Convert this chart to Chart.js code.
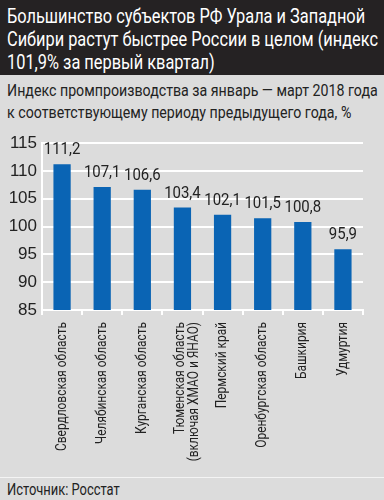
<!DOCTYPE html>
<html>
<head>
<meta charset="utf-8">
<script src="https://cdn.jsdelivr.net/npm/chart.js@4"></script>
<style>
  body { margin: 0; width: 384px; height: 500px; background: #dcdcdc; overflow: hidden;
         font-family: "Roboto", sans-serif; position: relative; }
  #head { background: #252223; height: 75px; position: relative; }
  .fit { position: absolute; left: 7px; white-space: nowrap; transform-origin: 0 0; }
  #title { top: 5px; color: #fff; font-size: 21px; line-height: 23px; }
  #sub { top: 80px; font-size: 16.5px; line-height: 21.5px; color: #222; }
  #box { position: absolute; top: 125px; left: 0; width: 384px; height: 350px; }
  #line { position: absolute; top: 477px; left: 0; width: 384px; height: 1px; background: #f4f4f4; }
  #src { top: 480px; font-size: 16px; color: #222; }
</style>
</head>
<body>
<div id="head"></div>
<div id="title" class="fit">Большинство субъектов РФ Урала и Западной<br>Сибири растут быстрее России в целом (индекс<br>101,9% за первый квартал)</div>
<div id="sub" class="fit">Индекс промпроизводства за январь — март 2018 года<br>к соответствующему периоду предыдущего года, %</div>
<div id="box"><canvas id="myChart" width="384" height="350"></canvas></div>
<div id="line"></div>
<div id="src" class="fit">Источник: Росстат</div>
<script>
const regions = [
  "Свердловская область",
  "Челябинская область",
  "Курганская область",
  ["Тюменская область", "(включая ХМАО и ЯНАО)"],
  "Пермский край",
  "Оренбургская область",
  "Башкирия",
  "Удмуртия"
];
const values = [111.2, 107.1, 106.6, 103.4, 102.1, 101.5, 100.8, 95.9];
const yTicks = [85, 90, 95, 100, 105, 110, 115];

// сжимаем текст по ширине, шрифт в оригинале узкий
function squeeze(id, width) {
  let el = document.getElementById(id);
  el.style.transform = 'scaleX(' + (width / el.scrollWidth) + ')';
}
squeeze('title', 371);
squeeze('sub', 371);
squeeze('src', 113);

// подписи значений над столбиками
const valueLabels = {
  id: 'valueLabels',
  afterDatasetsDraw(chart) {
    const ctx = chart.ctx;
    const meta = chart.getDatasetMeta(0);
    ctx.save();
    ctx.font = '17px Roboto';
    ctx.fillStyle = '#222';
    ctx.textAlign = 'center';
    ctx.textBaseline = 'alphabetic';
    meta.data.forEach((bar, i) => {
      ctx.save();
      ctx.translate(bar.x, bar.y - 10);
      ctx.scale(0.88, 1);
      ctx.fillText(values[i].toFixed(1).replace('.', ','), 0, 0);
      ctx.restore();
    });
    ctx.restore();
  }
};

// вертикальные подписи регионов, тоже сжатые
const regionLabels = {
  id: 'regionLabels',
  afterDraw(chart) {
    const ctx = chart.ctx;
    const xs = chart.scales.x;
    ctx.save();
    ctx.font = '14.5px Roboto';
    ctx.fillStyle = '#222';
    ctx.textAlign = 'right';
    ctx.textBaseline = 'middle';
    const k = 129 / ctx.measureText(regions[0]).width;
    regions.forEach((lab, i) => {
      const lines = Array.isArray(lab) ? lab : [lab];
      const x = xs.getPixelForTick(i);
      lines.forEach((txt, j) => {
        ctx.save();
        ctx.translate(x - (lines.length - 1) * 2 + j * 14, xs.top + 12);
        ctx.rotate(-Math.PI / 2);
        ctx.scale(k, 1);
        ctx.fillText(txt, 0, 0);
        ctx.restore();
      });
    });
    ctx.restore();
  }
};

const myChart = new Chart(document.getElementById('myChart'), {
  type: 'bar',
  data: {
    labels: regions,
    datasets: [{
      data: values,
      backgroundColor: '#0a64b4',
      barPercentage: 0.43,
      categoryPercentage: 1
    }]
  },
  options: {
    responsive: false,
    animation: false,
    layout: { padding: { top: 18, right: 21, bottom: 0, left: 0 } },
    plugins: { legend: { display: false }, tooltip: { enabled: false } },
    scales: {
      y: {
        min: 85, max: 115,
        afterFit(axis) { axis.width = 42; },
        afterBuildTicks(axis) { axis.ticks = yTicks.map(v => ({ value: v })); },
        grid: { color: '#fff', lineWidth: 2, drawTicks: false },
        border: { color: '#fff', width: 2 },
        ticks: { color: '#222', font: { size: 17 }, padding: 5 }
      },
      x: {
        afterFit(axis) { axis.height = 165; },
        grid: { display: true, offset: true, drawOnChartArea: false, color: '#fff', lineWidth: 2, tickLength: 5 },
        border: { color: '#fff', width: 2 },
        ticks: { display: false }
      }
    }
  },
  plugins: [valueLabels, regionLabels]
});
</script>
</body>
</html>
